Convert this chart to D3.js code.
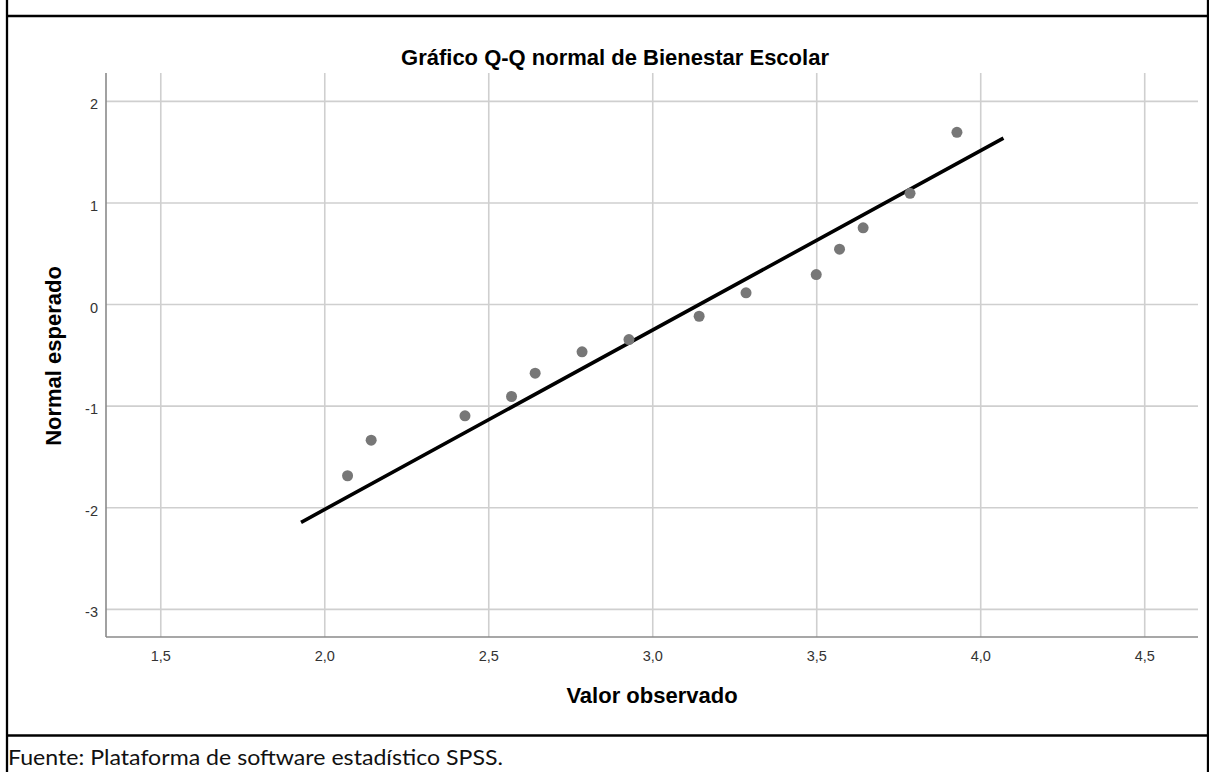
<!DOCTYPE html>
<html>
<head>
<meta charset="utf-8">
<script src="https://cdn.jsdelivr.net/npm/d3@7"></script>
<style>
  body { margin: 0; background: #fff; }
  text { font-family: "Liberation Sans", Arial, sans-serif; }
</style>
</head>
<body>
<div id="chart"></div>
<script>
// Q-Q plot data
const observed = [2.071, 2.143, 2.429, 2.571, 2.643, 2.786, 2.929, 3.143, 3.286, 3.500, 3.571, 3.643, 3.786, 3.929];
const expected = [-1.69, -1.34, -1.10, -0.91, -0.68, -0.47, -0.35, -0.12, 0.11, 0.29, 0.54, 0.75, 1.09, 1.69];
const lineX = [1.934, 4.066];
const lineY = [-2.14, 1.624];
const xTicks = [1.5, 2.0, 2.5, 3.0, 3.5, 4.0, 4.5];
const yTicks = [-3, -2, -1, 0, 1, 2];

const svgWidth = 1209;
const svgHeight = 772;

const plot = { left: 106, right: 1198, top: 73, bottom: 637 };

let svg = d3.select("#chart").append("svg")
    .attr("width", svgWidth)
    .attr("height", svgHeight);

// table frame around the figure
const frame = svg.append("g").attr("stroke", "#000").attr("stroke-width", 2.3);
frame.append("line").attr("x1", 7).attr("x2", 7).attr("y1", 0).attr("y2", svgHeight);
frame.append("line").attr("x1", 1208).attr("x2", 1208).attr("y1", 0).attr("y2", svgHeight);
frame.append("line").attr("x1", 7).attr("x2", svgWidth).attr("y1", 16).attr("y2", 16);
frame.append("line").attr("x1", 7).attr("x2", svgWidth).attr("y1", 735.5).attr("y2", 735.5);

let x = d3.scaleLinear()
    .domain([1.3345, 4.664])
    .range([plot.left, plot.right]);

let y = d3.scaleLinear()
    .domain([-3.277, 2.274])
    .range([plot.bottom, plot.top]);

const comma = d => d3.format(".1f")(d).replace(".", ",");

// grid
svg.append("g")
    .attr("transform", `translate(0,${plot.bottom})`)
    .call(d3.axisBottom(x).tickValues(xTicks).tickSize(-(plot.bottom - plot.top)).tickFormat(comma).tickPadding(14))
    .call(g => g.select(".domain").remove())
    .call(g => g.selectAll(".tick line").attr("stroke", "#cfcfcf").attr("stroke-width", 1.6))
    .call(g => g.selectAll(".tick text").attr("fill", "#333").style("font-size", "14.5px").style("font-family", "Liberation Sans, Arial, sans-serif"));

svg.append("g")
    .attr("transform", `translate(${plot.left},0)`)
    .call(d3.axisLeft(y).tickValues(yTicks).tickSize(-(plot.right - plot.left)).tickFormat(d => String(d)).tickPadding(8))
    .call(g => g.select(".domain").remove())
    .call(g => g.selectAll(".tick line").attr("stroke", "#cfcfcf").attr("stroke-width", 1.6))
    .call(g => g.selectAll(".tick text").attr("fill", "#333").attr("dy", "0.55em").style("font-size", "14.5px").style("font-family", "Liberation Sans, Arial, sans-serif"));

// axis lines
svg.append("line")
    .attr("x1", plot.left).attr("x2", plot.left)
    .attr("y1", plot.top).attr("y2", plot.bottom)
    .attr("stroke", "#8a8a8a").attr("stroke-width", 1.6);
svg.append("line")
    .attr("x1", plot.left).attr("x2", plot.right)
    .attr("y1", plot.bottom).attr("y2", plot.bottom)
    .attr("stroke", "#8a8a8a").attr("stroke-width", 1.6);

// reference line
svg.append("line")
    .attr("x1", x(lineX[0])).attr("y1", y(lineY[0]))
    .attr("x2", x(lineX[1])).attr("y2", y(lineY[1]))
    .attr("stroke", "#000")
    .attr("stroke-width", 3.6)
    .attr("stroke-linecap", "square");

// points
svg.append("g").selectAll("circle")
    .data(observed)
    .enter()
    .append("circle")
        .attr("cx", d => x(d))
        .attr("cy", (d, i) => y(expected[i]))
        .attr("r", 5.5)
        .style("fill", "#777");

// titles
svg.append("text")
    .attr("x", 615).attr("y", 65)
    .attr("text-anchor", "middle")
    .style("font-size", "22px").style("font-weight", "bold")
    .text("Gráfico Q-Q normal de Bienestar Escolar");

svg.append("text")
    .attr("x", 652).attr("y", 703)
    .attr("text-anchor", "middle")
    .style("font-size", "22px").style("font-weight", "bold")
    .text("Valor observado");

svg.append("text")
    .attr("transform", "translate(61,356) rotate(-90)")
    .attr("text-anchor", "middle")
    .style("font-size", "22px").style("font-weight", "bold")
    .text("Normal esperado");

svg.append("text")
    .attr("x", 8).attr("y", 765)
    .style("font-family", "Lato, Open Sans, sans-serif")
    .style("font-size", "21px")
    .attr("textLength", 495)
    .attr("lengthAdjust", "spacingAndGlyphs")
    .attr("fill", "#111")
    .text("Fuente: Plataforma de software estadístico SPSS.");
</script>
</body>
</html>
